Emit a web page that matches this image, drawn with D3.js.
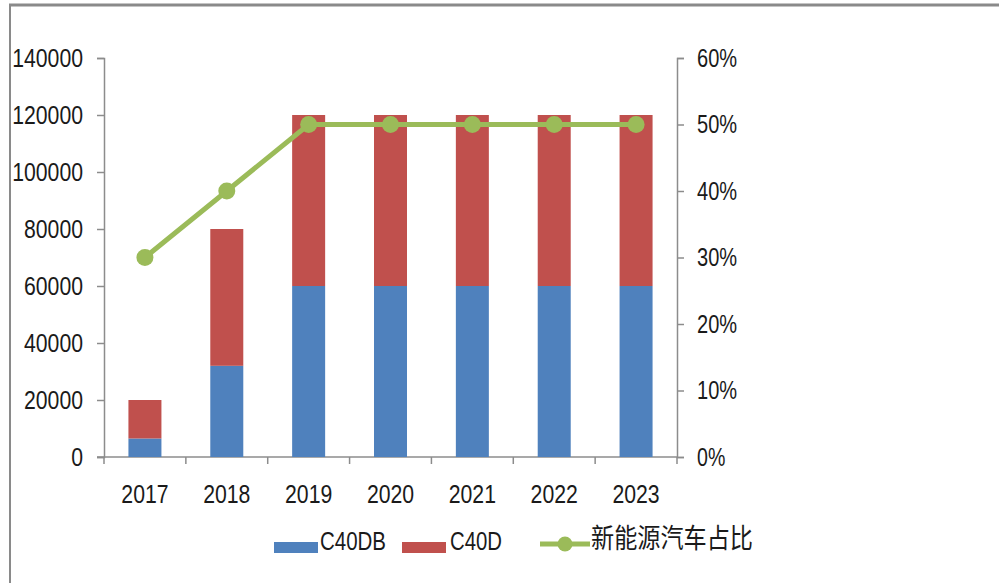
<!DOCTYPE html>
<html>
<head>
<meta charset="utf-8">
<script src="https://cdn.jsdelivr.net/npm/d3@7"></script>
<style>
  body { margin: 0; background: #fff; }
  svg text { font-family: "Liberation Sans", sans-serif; fill: #1a1a1a; }
</style>
</head>
<body>
<div id="chart"></div>
<script>
const years = ['2017', '2018', '2019', '2020', '2021', '2022', '2023']
const c40db = [6500, 32000, 60000, 60000, 60000, 60000, 60000]
const c40d = [13500, 48000, 60000, 60000, 60000, 60000, 60000]
const share = [0.30, 0.40, 0.50, 0.50, 0.50, 0.50, 0.50]
const leftTicks = [0, 20000, 40000, 60000, 80000, 100000, 120000, 140000]
const rightTicks = [0, 0.1, 0.2, 0.3, 0.4, 0.5, 0.6]

const width = 999
const height = 583
const plotLeft = 104
const plotRight = 677
const plotTop = 58
const plotBottom = 457

const blue = '#4f81bd'
const red = '#c0504d'
const green = '#9bbb59'
const axisColor = '#8c8c8c'

// the source font is narrow and tall, so squeeze glyphs to the measured width
const charW = ch => ch === '%' ? 16.5 : 11.8
const squeeze = sel => sel
  .attr('textLength', function () { return d3.sum(this.textContent.split(''), charW) })
  .attr('lengthAdjust', 'spacingAndGlyphs')

const svg = d3.select('#chart')
  .append('svg')
  .attr('width', width)
  .attr('height', height)

// frame (only top and left edges show in the picture)
svg.append('line').attr('x1', 9).attr('x2', width).attr('y1', 5).attr('y2', 5)
  .attr('stroke', '#8a8a8a').attr('stroke-width', 3)
svg.append('line').attr('x1', 10).attr('x2', 10).attr('y1', 4).attr('y2', height)
  .attr('stroke', '#8a8a8a').attr('stroke-width', 2)

const x = d3.scaleBand().domain(years).range([plotLeft, plotRight])
const y = d3.scaleLinear().domain([0, 140000]).range([plotBottom, plotTop])
const y2 = d3.scaleLinear().domain([0, 0.6]).range([plotBottom, plotTop])
const barW = 33

const styleAxis = g => {
  g.select('.domain').attr('stroke', axisColor).attr('stroke-width', 1.5)
  g.selectAll('.tick line').attr('stroke', axisColor).attr('stroke-width', 1.5)
  g.selectAll('.tick text').style('font-size', '26px').attr('fill', '#1a1a1a').call(squeeze)
}

svg.append('g')
  .attr('transform', `translate(${plotLeft},0)`)
  .call(d3.axisLeft(y).tickValues(leftTicks).tickFormat(d3.format('d')).tickSizeOuter(0).tickSize(7).tickPadding(14))
  .call(styleAxis)

svg.append('g')
  .attr('transform', `translate(${plotRight},0)`)
  .call(d3.axisRight(y2).tickValues(rightTicks).tickFormat(d3.format('.0%')).tickSizeOuter(0).tickSize(7).tickPadding(13))
  .call(styleAxis)

// x axis: ticks on category boundaries
const xg = svg.append('g').attr('transform', `translate(0,${plotBottom})`)
xg.append('line').attr('x1', plotLeft - 7).attr('x2', plotRight)
  .attr('stroke', axisColor).attr('stroke-width', 1.5)
const bounds = years.map(d => x(d)).concat([plotRight])
xg.selectAll('.bt').data(bounds).join('line')
  .attr('x1', d => d).attr('x2', d => d).attr('y1', 0).attr('y2', 7)
  .attr('stroke', axisColor).attr('stroke-width', 1.5)
xg.selectAll('.lbl').data(years).join('text')
  .attr('x', d => x(d) + x.bandwidth() / 2)
  .attr('y', 46)
  .attr('text-anchor', 'middle')
  .style('font-size', '26px')
  .text(d => d)
  .call(squeeze)

// stacked bars
const cx = d => x(d) + x.bandwidth() / 2
svg.append('g').selectAll('rect').data(years).join('rect')
  .attr('x', d => cx(d) - barW / 2)
  .attr('width', barW)
  .attr('y', (d, i) => y(c40db[i]))
  .attr('height', (d, i) => y(0) - y(c40db[i]))
  .attr('fill', blue)
svg.append('g').selectAll('rect').data(years).join('rect')
  .attr('x', d => cx(d) - barW / 2)
  .attr('width', barW)
  .attr('y', (d, i) => y(c40db[i] + c40d[i]))
  .attr('height', (d, i) => y(c40db[i]) - y(c40db[i] + c40d[i]))
  .attr('fill', red)

// share line
const line = d3.line().x(d => cx(d[0])).y(d => y2(d[1]))
const pts = years.map((d, i) => [d, share[i]])
svg.append('path').datum(pts)
  .attr('d', line)
  .attr('fill', 'none')
  .attr('stroke', green)
  .attr('stroke-width', 5)
svg.append('g').selectAll('circle').data(pts).join('circle')
  .attr('cx', d => cx(d[0]))
  .attr('cy', d => y2(d[1]))
  .attr('r', 8.5)
  .attr('fill', green)

// legend
const lg = svg.append('g').attr('transform', 'translate(0,547)')
lg.append('rect').attr('x', 274).attr('y', -5).attr('width', 44).attr('height', 11).attr('fill', blue)
lg.append('text').attr('x', 320).attr('y', 3).style('font-size', '25px').text('C40DB')
  .attr('textLength', 66).attr('lengthAdjust', 'spacingAndGlyphs')
lg.append('rect').attr('x', 402).attr('y', -5).attr('width', 44).attr('height', 11).attr('fill', red)
lg.append('text').attr('x', 450).attr('y', 3).style('font-size', '25px').text('C40D')
  .attr('textLength', 52).attr('lengthAdjust', 'spacingAndGlyphs')
lg.append('line').attr('x1', 540).attr('x2', 590).attr('y1', -3).attr('y2', -3)
  .attr('stroke', green).attr('stroke-width', 5)
lg.append('circle').attr('cx', 565).attr('cy', -3).attr('r', 7.5).attr('fill', green)
lg.append('text').attr('x', 591).attr('y', 1)
  .style('font-family', '"Noto Sans CJK SC", sans-serif')
  .style('font-size', '27px')
  .attr('textLength', 162).attr('lengthAdjust', 'spacingAndGlyphs')
  .text('新能源汽车占比')
</script>
</body>
</html>
